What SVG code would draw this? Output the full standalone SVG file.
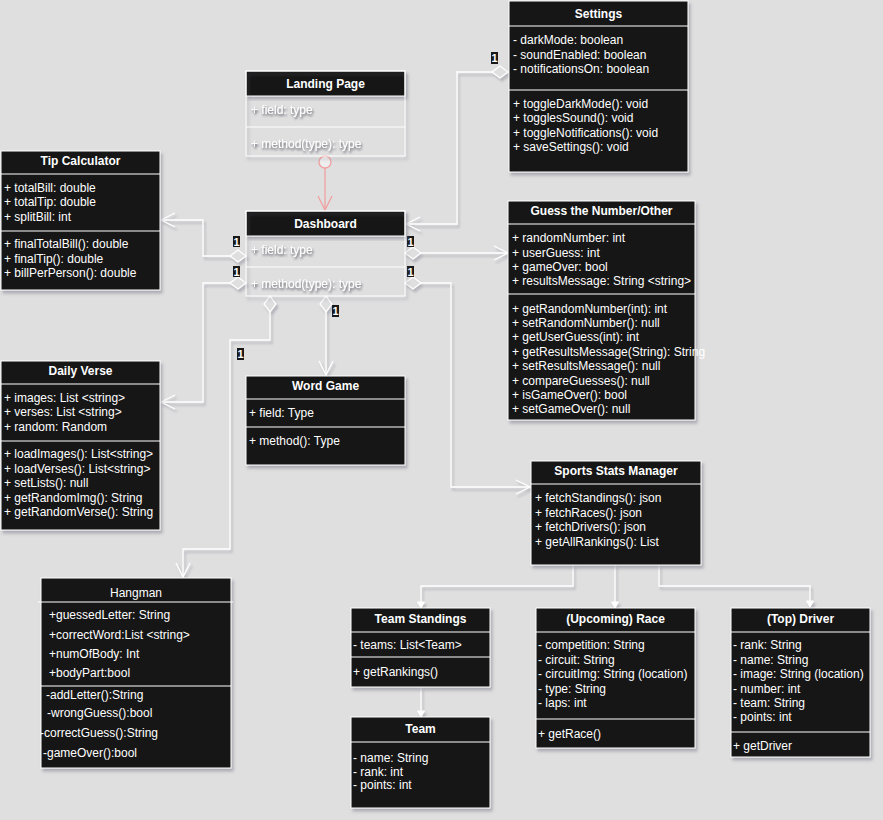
<svg xmlns="http://www.w3.org/2000/svg" width="883" height="820" viewBox="0 0 883 820">
<style>
text{font-family:"Liberation Sans",Arial,sans-serif;font-size:12px;fill:#ffffff}
.h{font-weight:bold;text-anchor:middle}
.hn{text-anchor:middle}
.box{fill:#181818;stroke:#ffffff;stroke-width:1}
.tbox{fill:none;stroke:#ffffff;stroke-width:1}
.hdr{fill:#181818;stroke:#ffffff;stroke-width:1}
.div{stroke:#ffffff;stroke-width:1.2}
.ln{fill:none;stroke:#ffffff;stroke-width:1.3}
.pk{fill:none;stroke:#f0a0a0;stroke-width:1.3}
.lblr{fill:#181818}
.lbl{font-weight:bold;font-size:11px;text-anchor:middle}
.sh{filter:url(#shadow)}
.lsh{filter:url(#lshadow)}
.ts{filter:url(#tshadow)}
</style>
<defs>
<filter id="shadow" x="-10%" y="-10%" width="130%" height="130%">
<feDropShadow dx="2" dy="3" stdDeviation="1.5" flood-color="#6a6a80" flood-opacity="0.45"/>
</filter>
<filter id="lshadow" filterUnits="userSpaceOnUse" x="0" y="0" width="883" height="820">
<feDropShadow dx="2" dy="3" stdDeviation="1.2" flood-color="#6a6a80" flood-opacity="0.35"/>
</filter>
<filter id="tshadow" x="-10%" y="-40%" width="130%" height="200%">
<feDropShadow dx="1" dy="2" stdDeviation="0.8" flood-color="#333344" flood-opacity="0.75"/>
</filter>
<marker id="dia" viewBox="-1 -8 19 16" markerWidth="19" markerHeight="16" refX="0" refY="0" orient="auto" markerUnits="userSpaceOnUse">
<path d="M0,0 L8,-6 L16,0 L8,6 Z" fill="#dfdfdf" stroke="#ffffff" stroke-width="1.3"/>
</marker>
<marker id="arr" viewBox="-16 -9 18 18" markerWidth="18" markerHeight="18" refX="0" refY="0" orient="auto" markerUnits="userSpaceOnUse">
<path d="M-14,-7 L0,0 L-14,7" fill="none" stroke="#ffffff" stroke-width="1.3"/>
</marker>
<marker id="parr" viewBox="-16 -9 18 18" markerWidth="18" markerHeight="18" refX="0" refY="0" orient="auto" markerUnits="userSpaceOnUse">
<path d="M-14,-7 L0,0 L-14,7" fill="none" stroke="#f0a0a0" stroke-width="1.3"/>
</marker>
<marker id="sarr" viewBox="-8 -5 9 10" markerWidth="9" markerHeight="10" refX="0" refY="0" orient="auto" markerUnits="userSpaceOnUse">
<path d="M-6,-3.5 L0,0 L-6,3.5 Z" fill="#ffffff" stroke="#ffffff" stroke-width="1"/>
</marker>
</defs>
<rect x="0" y="0" width="883" height="820" fill="#dfdfdf"/>

<g id="connectors">
<path class="ln lsh" d="M508,72 L457,72 L457,224 L406,224" marker-start="url(#dia)" marker-end="url(#arr)"/>
<path class="ln lsh" d="M246,256 L203,256 L203,220 L161,220" marker-start="url(#dia)" marker-end="url(#arr)"/>
<path class="ln lsh" d="M246,283 L203,283 L203,402 L161,402" marker-start="url(#dia)" marker-end="url(#arr)"/>
<path class="ln lsh" d="M270,296 L270,340 L230,340 L230,549 L183,549 L183,577" marker-start="url(#dia)" marker-end="url(#arr)"/>
<path class="ln lsh" d="M326,296 L326,375" marker-start="url(#dia)" marker-end="url(#arr)"/>
<path class="ln lsh" d="M405,253 L508,253" marker-start="url(#dia)" marker-end="url(#arr)"/>
<path class="ln lsh" d="M405,283 L451,283 L451,487 L530,487" marker-start="url(#dia)" marker-end="url(#arr)"/>
<path class="pk" d="M325,168 L325,210" marker-end="url(#parr)"/>
<circle cx="325" cy="162" r="6" fill="#eeeeee" stroke="#f0a0a0" stroke-width="1.3"/>
<path class="ln lsh" d="M573,565 L573,586 L421,586 L421,608" marker-end="url(#sarr)"/>
<path class="ln lsh" d="M615,565 L615,608" marker-end="url(#sarr)"/>
<path class="ln lsh" d="M659,565 L659,586 L810,586 L810,607" marker-end="url(#sarr)"/>
<path class="ln lsh" d="M421,687 L421,717" marker-end="url(#sarr)"/>
<rect class="lblr" x="491" y="52" width="7" height="12"/><text class="lbl" x="494.5" y="62">1</text>
<rect class="lblr" x="233" y="236" width="7" height="11"/><text class="lbl" x="236.5" y="245.5">1</text>
<rect class="lblr" x="233" y="266" width="7" height="11"/><text class="lbl" x="236.5" y="275.5">1</text>
<rect class="lblr" x="407" y="236" width="7" height="11"/><text class="lbl" x="410.5" y="245.5">1</text>
<rect class="lblr" x="407" y="266" width="7" height="11"/><text class="lbl" x="410.5" y="275.5">1</text>
<rect class="lblr" x="332" y="305" width="7" height="12"/><text class="lbl" x="335.5" y="315">1</text>
<rect class="lblr" x="237" y="348" width="7" height="12"/><text class="lbl" x="240.5" y="358">1</text>
</g>

<g id="settings">
<rect class="box sh" x="509" y="1" width="179" height="171"/>
<line class="div" x1="509" y1="26" x2="688" y2="26"/>
<line class="div" x1="509" y1="90" x2="688" y2="90"/>
<text class="h" x="598.5" y="18">Settings</text>
<text x="513" y="44">- darkMode: boolean</text>
<text x="513" y="58.5">- soundEnabled: boolean</text>
<text x="513" y="73">- notificationsOn: boolean</text>
<text x="513" y="107.5">+ toggleDarkMode(): void</text>
<text x="513" y="122">+ togglesSound(): void</text>
<text x="513" y="136.5">+ toggleNotifications(): void</text>
<text x="513" y="151">+ saveSettings(): void</text>
</g>

<g id="landing">
<rect class="hdr sh" x="246" y="71" width="159" height="25"/>
<rect class="tbox sh" x="246" y="71" width="159" height="85"/>
<line class="div" x1="246" y1="127" x2="405" y2="127"/>
<text class="h" x="325.5" y="88">Landing Page</text>
<text class="ts" x="251" y="114">+ field: type</text>
<text class="ts" x="251" y="147.5">+ method(type): type</text>
</g>

<g id="dashboard">
<rect class="hdr sh" x="246" y="211" width="159" height="25"/>
<rect class="tbox sh" x="246" y="211" width="159" height="85"/>
<line class="div" x1="246" y1="267" x2="405" y2="267"/>
<text class="h" x="325.5" y="228">Dashboard</text>
<text class="ts" x="251" y="254">+ field: type</text>
<text class="ts" x="251" y="287.5">+ method(type): type</text>
</g>

<g id="tipcalc">
<rect class="box sh" x="1" y="151" width="159" height="139"/>
<line class="div" x1="1" y1="174" x2="160" y2="174"/>
<line class="div" x1="1" y1="231" x2="160" y2="231"/>
<text class="h" x="80.5" y="164.5">Tip Calculator</text>
<text x="4" y="191.5">+ totalBill: double</text>
<text x="4" y="206">+ totalTip: double</text>
<text x="4" y="220.5">+ splitBill: int</text>
<text x="4" y="248">+ finalTotalBill(): double</text>
<text x="4" y="262.5">+ finalTip(): double</text>
<text x="4" y="276.5">+ billPerPerson(): double</text>
</g>

<g id="guess">
<rect class="box sh" x="508" y="201" width="187" height="219"/>
<line class="div" x1="508" y1="224" x2="695" y2="224"/>
<line class="div" x1="508" y1="294" x2="695" y2="294"/>
<text class="h" x="601.5" y="214.5">Guess the Number/Other</text>
<text x="512" y="241.5">+ randomNumber: int</text>
<text x="512" y="256.5">+ userGuess: int</text>
<text x="512" y="270.5">+ gameOver: bool</text>
<text x="512" y="285">+ resultsMessage: String &lt;string&gt;</text>
<text x="512" y="312.5">+ getRandomNumber(int): int</text>
<text x="512" y="326.5">+ setRandomNumber(): null</text>
<text x="512" y="341">+ getUserGuess(int): int</text>
<text x="512" y="355.5">+ getResultsMessage(String): String</text>
<text x="512" y="370">+ setResultsMessage(): null</text>
<text x="512" y="384.5">+ compareGuesses(): null</text>
<text x="512" y="398.5">+ isGameOver(): bool</text>
<text x="512" y="413">+ setGameOver(): null</text>
</g>

<g id="dailyverse">
<rect class="box sh" x="1" y="361" width="159" height="169"/>
<line class="div" x1="1" y1="384" x2="160" y2="384"/>
<line class="div" x1="1" y1="441" x2="160" y2="441"/>
<text class="h" x="80.5" y="375">Daily Verse</text>
<text x="4" y="401.5">+ images: List &lt;string&gt;</text>
<text x="4" y="415.5">+ verses: List &lt;string&gt;</text>
<text x="4" y="430.5">+ random: Random</text>
<text x="4" y="458">+ loadImages(): List&lt;string&gt;</text>
<text x="4" y="472.5">+ loadVerses(): List&lt;string&gt;</text>
<text x="4" y="487">+ setLists(): null</text>
<text x="4" y="501.5">+ getRandomImg(): String</text>
<text x="4" y="515.5">+ getRandomVerse(): String</text>
</g>

<g id="wordgame">
<rect class="box sh" x="246" y="376" width="159" height="89"/>
<line class="div" x1="246" y1="399" x2="405" y2="399"/>
<line class="div" x1="246" y1="427" x2="405" y2="427"/>
<text class="h" x="325.5" y="390">Word Game</text>
<text x="249" y="416.5">+ field: Type</text>
<text x="249" y="444.5">+ method(): Type</text>
</g>

<g id="hangman">
<rect class="box sh" x="41" y="578" width="190" height="190"/>
<line class="div" x1="38" y1="602" x2="233" y2="602"/>
<line class="div" x1="41" y1="686" x2="231" y2="686"/>
<text class="hn" x="136" y="597">Hangman</text>
<text x="49" y="619">+guessedLetter: String</text>
<text x="49" y="639">+correctWord:List &lt;string&gt;</text>
<text x="49" y="658">+numOfBody: Int</text>
<text x="49" y="677">+bodyPart:bool</text>
<text x="46" y="698.5">-addLetter():String</text>
<text x="47" y="717">-wrongGuess():bool</text>
<text x="40" y="737">-correctGuess():String</text>
<text x="43" y="757">-gameOver():bool</text>
</g>

<g id="sportsstats">
<rect class="box sh" x="531" y="461" width="170" height="104"/>
<line class="div" x1="531" y1="484" x2="701" y2="484"/>
<text class="h" x="616" y="475">Sports Stats Manager</text>
<text x="535" y="501.5">+ fetchStandings(): json</text>
<text x="535" y="516.5">+ fetchRaces(): json</text>
<text x="535" y="530.5">+ fetchDrivers(): json</text>
<text x="535" y="545.5">+ getAllRankings(): List</text>
</g>

<g id="teamstandings">
<rect class="box sh" x="351" y="608" width="139" height="79"/>
<line class="div" x1="351" y1="632" x2="490" y2="632"/>
<line class="div" x1="351" y1="657" x2="490" y2="657"/>
<text class="h" x="420.5" y="622.5">Team Standings</text>
<text x="353" y="649">- teams: List&lt;Team&gt;</text>
<text x="353" y="675.5">+ getRankings()</text>
</g>

<g id="team">
<rect class="box sh" x="351" y="717" width="139" height="91"/>
<line class="div" x1="351" y1="742" x2="490" y2="742"/>
<text class="h" x="420.5" y="732.5">Team</text>
<text x="353" y="761.5">- name: String</text>
<text x="353" y="775.5">- rank: int</text>
<text x="353" y="789">- points: int</text>
</g>

<g id="race">
<rect class="box sh" x="536" y="608" width="159" height="140"/>
<line class="div" x1="536" y1="632" x2="695" y2="632"/>
<line class="div" x1="536" y1="719" x2="695" y2="719"/>
<text class="h" x="615.5" y="622.5">(Upcoming) Race</text>
<text x="538" y="649">- competition: String</text>
<text x="538" y="664">- circuit: String</text>
<text x="538" y="678">- circuitImg: String (location)</text>
<text x="538" y="692.5">- type: String</text>
<text x="538" y="706.5">- laps: int</text>
<text x="538" y="738">+ getRace()</text>
</g>

<g id="driver">
<rect class="box sh" x="731" y="608" width="139" height="149"/>
<line class="div" x1="731" y1="632" x2="870" y2="632"/>
<line class="div" x1="731" y1="732" x2="870" y2="732"/>
<text class="h" x="800.5" y="622.5">(Top) Driver</text>
<text x="733" y="649">- rank: String</text>
<text x="733" y="664">- name: String</text>
<text x="733" y="678">- image: String (location)</text>
<text x="733" y="692.5">- number: int</text>
<text x="733" y="707">- team: String</text>
<text x="733" y="721">- points: int</text>
<text x="733" y="750">+ getDriver</text>
</g>
</svg>
